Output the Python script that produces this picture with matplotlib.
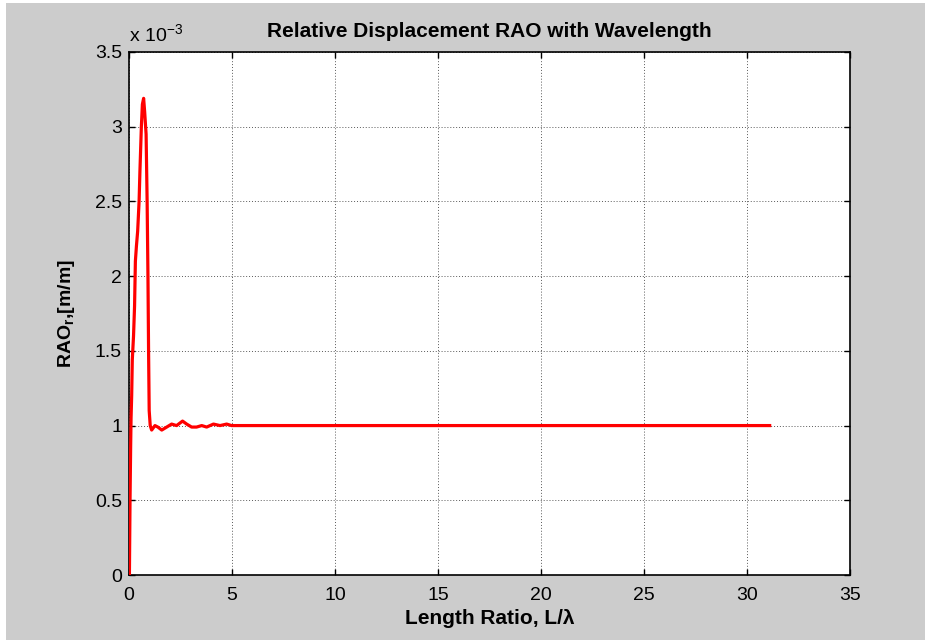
import numpy as np
import matplotlib
matplotlib.use("Agg")
import matplotlib.pyplot as plt
from matplotlib.patches import Rectangle
from matplotlib.ticker import FuncFormatter

plt.rcParams['font.family'] = ['Liberation Sans', 'DejaVu Sans']
plt.rcParams['mathtext.fontset'] = 'custom'
plt.rcParams['mathtext.rm'] = 'Liberation Sans'

# Length ratio L/lambda
length_ratio = [0.02, 0.05, 0.08, 0.10, 0.13, 0.16, 0.22, 0.27, 0.31, 0.36, 0.42,
                0.49, 0.53, 0.60, 0.65, 0.71, 0.76, 0.83, 0.88, 0.92, 0.95, 0.98,
                1.03, 1.10, 1.26, 1.40, 1.59, 1.83, 2.07, 2.31, 2.60, 2.80, 3.04,
                3.28, 3.53, 3.77, 4.10, 4.42, 4.74, 4.98, 31.1]
# Relative displacement RAO, in units of 1e-3 m/m
rao_milli = [0.00, 0.50, 0.86, 1.05, 1.20, 1.44, 1.60, 1.80, 2.10, 2.20, 2.30,
             2.50, 2.70, 3.00, 3.15, 3.19, 3.10, 2.95, 2.50, 2.00, 1.50, 1.10,
             1.00, 0.97, 1.00, 0.99, 0.97, 0.99, 1.01, 1.00, 1.03, 1.01, 0.99,
             0.99, 1.00, 0.99, 1.01, 1.00, 1.01, 1.00, 1.00]

x_ticks = [0, 5, 10, 15, 20, 25, 30, 35]
y_ticks_milli = [0, 0.5, 1, 1.5, 2, 2.5, 3, 3.5]

W, H = 925, 640
fig = plt.figure(figsize=(W / 100, H / 100), dpi=100)
fig.patch.set_facecolor('white')
fig.add_artist(Rectangle((6 / W, 0), 1, 1 - 3 / H, transform=fig.transFigure,
                         facecolor='#cccccc', edgecolor='none', zorder=-10))

ax = fig.add_axes([129 / W, 1 - 575 / H, (850 - 129) / W, (575 - 52) / H])
ax.set_facecolor('white')

y = np.array(rao_milli) * 1e-3
ax.plot(length_ratio, y, color='red', lw=2.3, solid_joinstyle='round', zorder=3)

ax.set_xlim(0, 35)
ax.set_ylim(0, 3.5e-3)
ax.set_xticks(x_ticks)
ax.set_yticks(np.array(y_ticks_milli) * 1e-3)
ax.yaxis.set_major_formatter(FuncFormatter(lambda v, p: f"{v * 1e3:g}"))

ax.grid(True, color='0.35', linestyle=(0, (1, 2)), lw=0.7)
ax.tick_params(direction='in', length=4, width=1, top=True, right=True,
               labelsize=14, colors='black')
ax.tick_params(axis='x', pad=9)
ax.tick_params(axis='y', pad=5)
for s in ax.spines.values():
    s.set_linewidth(1.2)
    s.set_color('black')

ax.set_title('Relative Displacement RAO with Wavelength', fontsize=15,
             fontweight='bold', pad=11)
ax.set_xlabel('Length Ratio, L/λ', fontsize=15, fontweight='bold', labelpad=3)
ax.set_ylabel(r'RAO$_\mathregular{r}$,[m/m]', fontsize=14, fontweight='bold',
              labelpad=13)
ax.text(0.0, 1.012, r'x 10$^{\mathregular{-3}}$', transform=ax.transAxes,
        fontsize=14, ha='left', va='bottom')

fig.savefig('out.png', dpi=100, facecolor=fig.get_facecolor())
